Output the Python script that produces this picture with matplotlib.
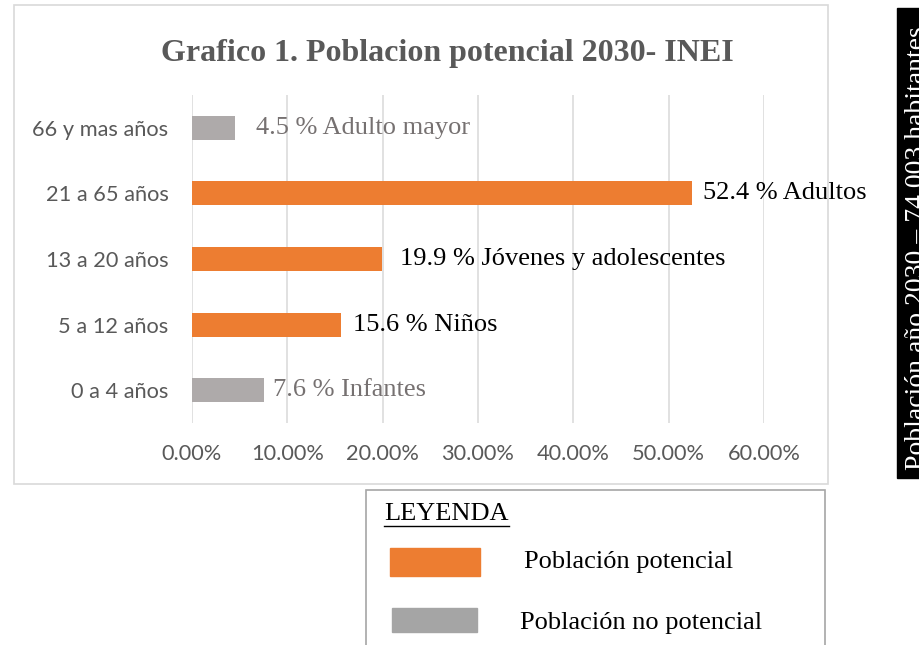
import matplotlib
matplotlib.use("Agg")
import matplotlib.pyplot as plt
from matplotlib.patches import Rectangle
from matplotlib.ticker import PercentFormatter

# data
grupos = ["0 a 4 años", "5 a 12 años", "13 a 20 años", "21 a 65 años", "66 y mas años"]
valores = [7.6, 15.6, 19.9, 52.4, 4.5]
etiquetas = ["7.6 % Infantes", "15.6 % Niños", "19.9 % Jóvenes y adolescentes",
             "52.4 % Adultos", "4.5 % Adulto mayor"]
potencial = [False, True, True, True, False]
xticks = [0, 10, 20, 30, 40, 50, 60]

W, H = 920, 645
NARANJA = "#ED7D31"
GRIS_BARRA = "#AEAAAA"
GRIS_LEY = "#A5A5A5"
GRIS_TXT = "#767171"
SERIF = ["Liberation Serif", "DejaVu Serif"]
SANS = ["Lato", "DejaVu Sans"]

def fx(x):
    return x / W

def fy(y):
    return 1 - y / H

fig = plt.figure(figsize=(W / 100, H / 100), dpi=100)

# marco del grafico
fig.patches.append(Rectangle((fx(14), fy(484)), fx(828 - 14), (484 - 5) / H,
                             transform=fig.transFigure, fill=False,
                             edgecolor="#D9D9D9", lw=1.2))

ax = fig.add_axes([fx(192), fy(423), fx(764 - 192), (423 - 95) / H])
colores = [NARANJA if p else GRIS_BARRA for p in potencial]
ax.barh(range(len(grupos)), valores, height=0.365, color=colores, zorder=3)
ax.set_xlim(0, 60)
ax.set_ylim(-0.5, len(grupos) - 0.5)
ax.set_xticks(xticks)
ax.xaxis.set_major_formatter(PercentFormatter(decimals=2))
ax.set_yticks(range(len(grupos)))
ax.set_yticklabels(grupos)
ax.tick_params(length=0, labelsize=15.7, labelcolor="#595959")
ax.tick_params(axis="x", pad=15)
ax.tick_params(axis="y", pad=17)
for lab in ax.get_xticklabels() + ax.get_yticklabels():
    lab.set_family(SANS)
ax.grid(axis="x", color="#D9D9D9", lw=1.1, zorder=0)
for s in ax.spines.values():
    s.set_visible(False)

# etiquetas de datos
desplaz = [9, 12, 18, 11, 21]
for i, (v, t, p) in enumerate(zip(valores, etiquetas, potencial)):
    ax.annotate(t, (v, i), xytext=(desplaz[i] * 0.72, 0), textcoords="offset points",
                va="center", ha="left", fontsize=19, family=SERIF,
                color="black" if p else GRIS_TXT, zorder=4)

fig.text(fx(447), fy(53), "Grafico 1. Poblacion potencial 2030- INEI",
         ha="center", va="center", fontsize=23, fontweight="bold",
         color="#595959", family=SERIF)

# cuadro de leyenda
fig.patches.append(Rectangle((fx(366), fy(700)), fx(825 - 366), (700 - 490) / H,
                             transform=fig.transFigure, fill=False,
                             edgecolor="#A6A6A6", lw=1.2))
fig.text(fx(384), fy(514), "LEYENDA", ha="left", va="center", fontsize=19,
         family=SERIF, color="black")
fig.add_artist(plt.Line2D([fx(384), fx(509)], [fy(526), fy(526)], color="black", lw=1))
fig.patches.append(Rectangle((fx(390), fy(576)), fx(90), 28 / H,
                             transform=fig.transFigure, color=NARANJA))
fig.patches.append(Rectangle((fx(392), fy(632)), fx(85), 24 / H,
                             transform=fig.transFigure, color=GRIS_LEY))
fig.text(fx(524), fy(562), "Población potencial", ha="left", va="center",
         fontsize=19, family=SERIF, color="black")
fig.text(fx(520), fy(623), "Población no potencial", ha="left", va="center",
         fontsize=19, family=SERIF, color="black")

# recuadro lateral
fig.patches.append(Rectangle((fx(897), fy(478)), fx(40), (478 - 8) / H,
                             transform=fig.transFigure, color="black"))
fig.text(fx(917), fy(470), "Población año 2030 – 74,003 habitantes",
         rotation=90, ha="center", va="bottom", fontsize=20, family=SERIF,
         color="white")

fig.savefig("out.png", dpi=100)
